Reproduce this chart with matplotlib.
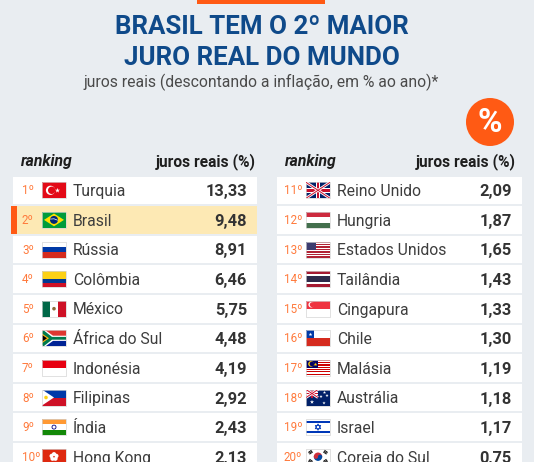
import matplotlib
matplotlib.use("Agg")
import matplotlib.pyplot as plt
from matplotlib.patches import Rectangle, Circle, Polygon, Wedge
import numpy as np

# ---------------- data ----------------
left_countries = ["Turquia", "Brasil", "Rússia", "Colômbia", "México",
                  "África do Sul", "Indonésia", "Filipinas", "Índia", "Hong Kong"]
left_values = [13.33, 9.48, 8.91, 6.46, 5.75, 4.48, 4.19, 2.92, 2.43, 2.13]
left_flags = ["TR", "BR", "RU", "CO", "MX", "ZA", "ID", "PH", "IN", "HK"]

right_countries = ["Reino Unido", "Hungria", "Estados Unidos", "Tailândia", "Cingapura",
                   "Chile", "Malásia", "Austrália", "Israel", "Coreia do Sul"]
right_values = [2.09, 1.87, 1.65, 1.43, 1.33, 1.30, 1.19, 1.18, 1.17, 0.75]
right_flags = ["GB", "HU", "US", "TH", "SG", "CL", "MY", "AU", "IL", "KR"]

left_ranks = ["1º", "2º", "3º", "4º", "5º", "6º", "7º", "8º", "9º", "10º"]
right_ranks = ["11º", "12º", "13º", "14º", "15º", "16º", "17º", "18º", "19º", "20º"]

title_lines = ["BRASIL TEM O 2º MAIOR", "JURO REAL DO MUNDO"]
subtitle = "juros reais (descontando a inflação, em % ao ano)*"
header_rank = "ranking"
header_value = "juros reais (%)"
highlight = "Brasil"

# ---------------- style ----------------
BG = "#e9edf1"
BLUE = "#0f4a8a"
ORANGE = "#ff5a14"
RANK_C = "#ff7a3c"
TXT = "#3d3d3d"
VAL = "#333333"
HL = "#fde9b4"

W, H = 534, 462
fig = plt.figure(figsize=(W / 100, H / 100), dpi=100)
fig.patch.set_facecolor(BG)
ax = fig.add_axes([0, 0, 1, 1])
ax.set_xlim(0, W)
ax.set_ylim(H, 0)
ax.axis("off")
ax.set_facecolor(BG)

FONT = "Roboto"

# top orange bar
ax.add_patch(Rectangle((197, 0), 128, 3.5, color=ORANGE, lw=0))

# titles
ax.text(262, 27.5, title_lines[0], ha="center", va="center", fontsize=18.6,
        fontweight="bold", color=BLUE, family=FONT)
ax.text(262, 58, title_lines[1], ha="center", va="center", fontsize=18.6,
        fontweight="bold", color=BLUE, family=FONT)
ax.text(261.5, 82, subtitle, ha="center", va="center", fontsize=11.3,
        color="#4a4a4a", family=FONT)

# percent badge
ax.add_patch(Circle((490, 122), 24, color=ORANGE, lw=0))
ax.text(490, 123, "%", ha="center", va="center", fontsize=24, color="white",
        fontweight="bold", family=FONT)


# ---------------- flags ----------------
def flag(code, x, y, w=24, h=16):
    base = Rectangle((x, y), w, h, facecolor="white", edgecolor="none", lw=0)
    ax.add_patch(base)
    arts = []

    def rect(x0, y0, ww, hh, c):
        p = Rectangle((x0, y0), ww, hh, facecolor=c, edgecolor="none", lw=0)
        ax.add_patch(p); arts.append(p)

    def hstripes(colors, weights=None):
        weights = weights or [1] * len(colors)
        tot = sum(weights); yy = y
        for c, wt in zip(colors, weights):
            rect(x, yy, w, h * wt / tot + 0.05, c); yy += h * wt / tot

    def vstripes(colors):
        n = len(colors)
        for i, c in enumerate(colors):
            rect(x + i * w / n, y, w / n + 0.05, h, c)

    def circ(cx, cy, r, c, fill=True, lw=0.6):
        p = Circle((cx, cy), r, facecolor=c if fill else "none",
                   edgecolor="none" if fill else c, lw=0 if fill else lw)
        ax.add_patch(p); arts.append(p)

    def poly(pts, c):
        p = Polygon(pts, closed=True, facecolor=c, edgecolor="none", lw=0)
        ax.add_patch(p); arts.append(p)

    def line(xs, ys, c, lw):
        l, = ax.plot(xs, ys, color=c, lw=lw, solid_capstyle="butt")
        arts.append(l)

    def stars(xs, ys, c, s):
        sc = ax.scatter(xs, ys, marker="*", s=s, c=c, linewidths=0, zorder=3)
        arts.append(sc)

    def union(x0, y0, ww, hh):
        rect(x0, y0, ww, hh, "#012169")
        line([x0, x0 + ww], [y0, y0 + hh], "white", 2.0)
        line([x0, x0 + ww], [y0 + hh, y0], "white", 2.0)
        line([x0, x0 + ww], [y0, y0 + hh], "#c8102e", 0.7)
        line([x0, x0 + ww], [y0 + hh, y0], "#c8102e", 0.7)
        rect(x0, y0 + hh * 0.36, ww, hh * 0.28, "white")
        rect(x0 + ww * 0.4, y0, ww * 0.2, hh, "white")
        rect(x0, y0 + hh * 0.42, ww, hh * 0.16, "#c8102e")
        rect(x0 + ww * 0.44, y0, ww * 0.12, hh, "#c8102e")

    if code == "TR":
        rect(x, y, w, h, "#e30a17")
        circ(x + 8.5, y + 8, 4.6, "white")
        circ(x + 9.7, y + 8, 3.7, "#e30a17")
        stars([x + 15], [y + 8], "white", 14)
    elif code == "BR":
        rect(x, y, w, h, "#009c3b")
        poly([(x + 2, y + 8), (x + 12, y + 1.6), (x + 22, y + 8), (x + 12, y + 14.4)], "#ffdf00")
        circ(x + 12, y + 8, 4.0, "#002776")
        line([x + 8.2, x + 12, x + 15.8], [y + 7.2, y + 6.9, y + 8.4], "white", 0.5)
    elif code == "RU":
        hstripes(["white", "#0039a6", "#d52b1e"])
    elif code == "CO":
        hstripes(["#fcd116", "#003893", "#ce1126"], [2, 1, 1])
    elif code == "MX":
        vstripes(["#006847", "white", "#ce1126"])
        circ(x + 12, y + 8, 1.8, "#8c6b3a")
    elif code == "ZA":
        rect(x, y, w, h / 2, "#de3831")
        rect(x, y + h / 2, w, h / 2, "#002395")
        poly([(x, y), (x + 3.5, y), (x + 11, y + 5.4), (x + w, y + 5.4), (x + w, y + 10.6),
              (x + 11, y + 10.6), (x + 3.5, y + h), (x, y + h)], "white")
        poly([(x, y + 1.2), (x + 1.6, y), (x + 10, y + 6.6), (x + w, y + 6.6), (x + w, y + 9.4),
              (x + 10, y + 9.4), (x + 1.6, y + h), (x, y + h - 1.2)], "#007a4d")
        poly([(x, y + 3.2), (x + 7, y + 8), (x, y + 12.8)], "#ffb612")
        poly([(x, y + 4.6), (x + 5, y + 8), (x, y + 11.4)], "#000000")
    elif code == "ID":
        hstripes(["#e70011", "white"])
    elif code == "PH":
        hstripes(["#0038a8", "#ce1126"])
        poly([(x, y), (x + 12, y + 8), (x, y + h)], "white")
        circ(x + 4, y + 8, 1.8, "#fcd116")
    elif code == "IN":
        hstripes(["#ff9933", "white", "#138808"])
        circ(x + 12, y + 8, 2.0, "#000080", fill=False, lw=0.6)
    elif code == "HK":
        rect(x, y, w, h, "#de2910")
        for k in range(5):
            a = np.deg2rad(90 + 72 * k)
            circ(x + 12 + 2.4 * np.cos(a), y + 8 - 2.4 * np.sin(a), 2.2, "white")
        circ(x + 12, y + 8, 0.8, "#de2910")
    elif code == "GB":
        union(x, y, w, h)
    elif code == "HU":
        hstripes(["#cd2a3e", "white", "#436f4d"])
    elif code == "US":
        hstripes(["#b22234" if i % 2 == 0 else "white" for i in range(13)])
        rect(x, y, 10, h * 7 / 13, "#3c3b6e")
    elif code == "TH":
        hstripes(["#a51931", "white", "#2d2a4a", "white", "#a51931"], [1, 1, 2, 1, 1])
    elif code == "SG":
        hstripes(["#ef3340", "white"])
        circ(x + 5.2, y + 4, 2.8, "white")
        circ(x + 6.3, y + 4, 2.5, "#ef3340")
    elif code == "CL":
        hstripes(["white", "#d52b1e"])
        rect(x, y, 8, 8, "#0039a6")
        stars([x + 4], [y + 4], "white", 8)
    elif code == "MY":
        hstripes(["#cc0001" if i % 2 == 0 else "white" for i in range(14)])
        rect(x, y, 12, 8, "#010066")
        circ(x + 5, y + 4, 2.8, "#ffcc00")
        circ(x + 5.9, y + 4, 2.3, "#010066")
        stars([x + 9], [y + 4], "#ffcc00", 8)
    elif code == "AU":
        rect(x, y, w, h, "#012169")
        union(x, y, 12, 8)
        stars([x + 6, x + 18, x + 15, x + 21, x + 18.5], [y + 12.5, y + 13.5, y + 7, y + 6, y + 3],
              "white", [10, 6, 6, 6, 6])
    elif code == "IL":
        rect(x, y, w, h, "white")
        rect(x, y + 1.8, w, 2.2, "#0038b8")
        rect(x, y + h - 4, w, 2.2, "#0038b8")
        for rot in (0, 180):
            a = np.deg2rad(np.array([90, 210, 330]) + rot)
            pts = list(zip(x + 12 + 3.2 * np.cos(a), y + 8 - 3.2 * np.sin(a)))
            p = Polygon(pts, closed=True, facecolor="none", edgecolor="#0038b8", lw=0.6)
            ax.add_patch(p); arts.append(p)
    elif code == "KR":
        rect(x, y, w, h, "white")
        cx, cy, r = x + 12, y + 8, 4.2
        p1 = Wedge((cx, cy), r, 180, 360, facecolor="#cd2e3a", lw=0)
        p2 = Wedge((cx, cy), r, 0, 180, facecolor="#0047a0", lw=0)
        for p in (p1, p2):
            ax.add_patch(p); arts.append(p)
        circ(cx - r / 2, cy, r / 2, "#cd2e3a")
        circ(cx + r / 2, cy, r / 2, "#0047a0")
        for (tx, ty, ang) in [(x + 4.5, y + 3.5, -35), (x + 19.5, y + 3.5, 35),
                              (x + 4.5, y + 12.5, 35), (x + 19.5, y + 12.5, -35)]:
            a = np.deg2rad(ang)
            dx, dy = 2.0 * np.cos(a), 2.0 * np.sin(a)
            for off in (-1.1, 0, 1.1):
                ox, oy = -off * np.sin(a), off * np.cos(a)
                line([tx - dx + ox, tx + dx + ox], [ty - dy + oy, ty + dy + oy], "black", 0.6)

    for a in arts:
        a.set_clip_path(base)
    ax.add_patch(Rectangle((x, y), w, h, facecolor="none", edgecolor="#d4d4d4", lw=0.5))


# ---------------- table ----------------
ROW0 = 176.5
PITCH = 29.6
ROWH = 27.6

columns = [
    dict(countries=left_countries, values=left_values, flags=left_flags, ranks=left_ranks,
         x0=13, x1=257, rank_x=22, flag_x=42, name_x=73, val_x=247, hdr_x=21, hdr_vx=256),
    dict(countries=right_countries, values=right_values, flags=right_flags, ranks=right_ranks,
         x0=277, x1=522, rank_x=284, flag_x=306, name_x=337, val_x=512, hdr_x=285, hdr_vx=516),
]

for col in columns:
    ax.text(col["hdr_x"], 161.5, header_rank, ha="left", va="center", fontsize=11.3,
            fontweight="bold", fontstyle="italic", color="#1e1e1e", family=FONT)
    ax.text(col["hdr_vx"], 161.5, header_value, ha="right", va="center", fontsize=11.2,
            fontweight="bold", color="#1e1e1e", family=FONT)
    for i, (name, val, fl, rk) in enumerate(zip(col["countries"], col["values"],
                                                 col["flags"], col["ranks"])):
        top = ROW0 + i * PITCH
        yc = top + ROWH / 2
        if name == highlight:
            ax.add_patch(Rectangle((col["x0"] - 2.5, top), 6, ROWH, color=ORANGE, lw=0))
            ax.add_patch(Rectangle((col["x0"] + 3.5, top), col["x1"] - col["x0"] - 3.5, ROWH,
                                   color=HL, lw=0))
        else:
            ax.add_patch(Rectangle((col["x0"], top), col["x1"] - col["x0"], ROWH,
                                   color="white", lw=0))
        ax.text(col["rank_x"], yc + 4.0, rk, ha="left", va="baseline", fontsize=8.4,
                color=RANK_C, family=FONT)
        flag(fl, col["flag_x"], yc - 8)
        ax.text(col["name_x"], yc + 5.8, name, ha="left", va="baseline", fontsize=11.3,
                color=TXT, family=FONT)
        ax.text(col["val_x"], yc + 6.0, f"{val:.2f}".replace(".", ","), ha="right",
                va="baseline", fontsize=11.8, fontweight="bold", color=VAL, family=FONT)

fig.savefig("out.png", dpi=100, facecolor=BG)
